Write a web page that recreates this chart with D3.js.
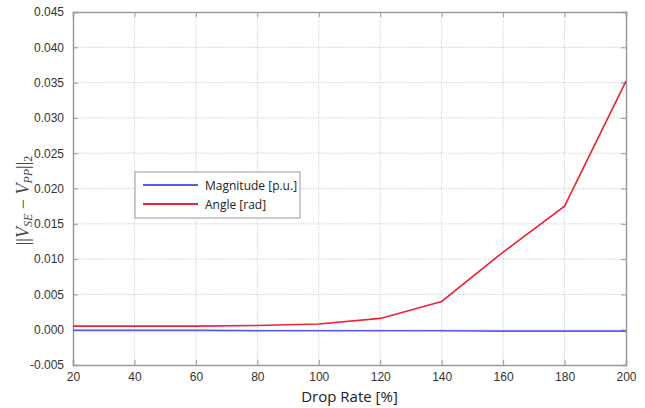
<!DOCTYPE html>
<html>
<head>
<meta charset="utf-8">
<script src="https://cdn.jsdelivr.net/npm/d3@7"></script>
<style>
	body { margin: 0; background: #fff; }
	svg { display: block; font-family: 'Open Sans', 'Noto Sans', sans-serif; }
</style>
</head>
<body>
<svg id="chart" width="645" height="408"></svg>
<script>
// chart values
const dropRate = [20, 40, 60, 80, 100, 120, 140, 160, 180, 200]
const magnitude = [-0.0001, -0.0001, -0.0001, -0.00015, -0.00015, -0.00015, -0.00015, -0.0002, -0.0002, -0.0002]
const angle = [0.0005, 0.0005, 0.0005, 0.0006, 0.0008, 0.0016, 0.004, 0.011, 0.0175, 0.0352]
const xTicks = [20, 40, 60, 80, 100, 120, 140, 160, 180, 200]
const yTicks = [-0.005, 0, 0.005, 0.01, 0.015, 0.02, 0.025, 0.03, 0.035, 0.04, 0.045]
const seriesNames = ['Magnitude [p.u.]', 'Angle [rad]']
const seriesColors = ['#5a5af0', '#ee2233']

const svg = d3.select('#chart')
const margin = { left: 73, right: 19, top: 12, bottom: 43 }
const width = 645 - margin.left - margin.right
const height = 408 - margin.top - margin.bottom

const x = d3.scaleLinear().domain([20, 200]).range([0, width])
const y = d3.scaleLinear().domain([-0.005, 0.045]).range([height, 0])

const g = svg.append('g').attr('transform', 'translate(' + margin.left + ',' + margin.top + ')')

//Dotted grid
g.append('g')
	.selectAll('line')
	.data(xTicks.slice(1, -1))
	.enter()
	.append('line')
	.attr('x1', d => x(d))
	.attr('x2', d => x(d))
	.attr('y1', 0)
	.attr('y2', height)
	.attr('stroke', '#c4c4c4')
	.attr('stroke-dasharray', '1,1.5')

g.append('g')
	.selectAll('line')
	.data(yTicks.slice(1, -1))
	.enter()
	.append('line')
	.attr('y1', d => y(d))
	.attr('y2', d => y(d))
	.attr('x1', 0)
	.attr('x2', width)
	.attr('stroke', '#c4c4c4')
	.attr('stroke-dasharray', '1,1.5')

//Axes with inward ticks
const tickFmt = d3.format('.3f')
const xAxis = g.append('g')
	.attr('transform', 'translate(0,' + height + ')')
	.call(d3.axisBottom(x).tickValues(xTicks).tickSize(-5).tickPadding(7))
const yAxis = g.append('g').call(d3.axisLeft(y).tickValues(yTicks).tickFormat(tickFmt).tickSize(-5).tickPadding(9))
const xTop = g.append('g').call(d3.axisTop(x).tickValues(xTicks).tickSize(-5).tickFormat(''))
const yRight = g.append('g')
	.attr('transform', 'translate(' + width + ',0)')
	.call(d3.axisRight(y).tickValues(yTicks).tickSize(-5).tickFormat(''))

;[xAxis, yAxis, xTop, yRight].forEach(a => {
	a.select('.domain').attr('stroke', '#9a9a9a').attr('stroke-width', 1.5)
	a.selectAll('.tick line').attr('stroke', '#9a9a9a')
	a.selectAll('.tick text').attr('fill', '#333').style('font-size', '12px')
})
yAxis.selectAll('.tick text').text(d => (d < 0 ? '-' : '') + tickFmt(Math.abs(d)))

//Series lines
const line = d3.line().x((d, i) => x(dropRate[i])).y(d => y(d))
;[magnitude, angle].forEach((s, i) => {
	g.append('path')
		.datum(s)
		.attr('fill', 'none')
		.attr('stroke', seriesColors[i])
		.attr('stroke-width', 1.6)
		.attr('d', line)
})

//Legend
const legend = svg.append('g').attr('transform', 'translate(135,172)')
legend.append('rect')
	.attr('width', 165)
	.attr('height', 46)
	.attr('fill', '#fff')
	.attr('stroke', '#9a9a9a')
const items = legend.selectAll(null)
	.data(seriesNames)
	.enter()
	.append('g')
	.attr('transform', (d, i) => 'translate(0,' + (13 + i * 19) + ')')
items.append('line')
	.attr('x1', 8)
	.attr('x2', 63)
	.attr('stroke', (d, i) => seriesColors[i])
	.attr('stroke-width', 2)
items.append('text')
	.attr('x', 70)
	.attr('dominant-baseline', 'central')
	.attr('fill', '#222')
	.style('font-size', '12px')
	.text(d => d)

//Axis titles
svg.append('text')
	.attr('x', margin.left + width / 2)
	.attr('y', 402)
	.attr('text-anchor', 'middle')
	.attr('fill', '#222')
	.style('font-size', '15px')
	.text('Drop Rate [%]')

const yLabel = svg.append('text')
	.attr('transform', 'translate(29,' + (margin.top + height / 2 + 12) + ') rotate(-90)')
	.attr('text-anchor', 'middle')
	.attr('fill', '#444')
	.style('font-family', "'Liberation Serif', serif")
	.style('font-size', '18px')
yLabel.append('tspan').text('||')
yLabel.append('tspan').style('font-style', 'italic').text('V')
yLabel.append('tspan').style('font-style', 'italic').style('font-size', '12px').attr('dy', 3).text('SE')
yLabel.append('tspan').attr('dy', -3).text(' \u2212 ')
yLabel.append('tspan').style('font-style', 'italic').text('V')
yLabel.append('tspan').style('font-style', 'italic').style('font-size', '12px').attr('dy', 3).text('PP')
yLabel.append('tspan').attr('dy', -3).text('||')
yLabel.append('tspan').style('font-size', '12px').attr('dy', 3).text('2')
</script>
</body>
</html>
